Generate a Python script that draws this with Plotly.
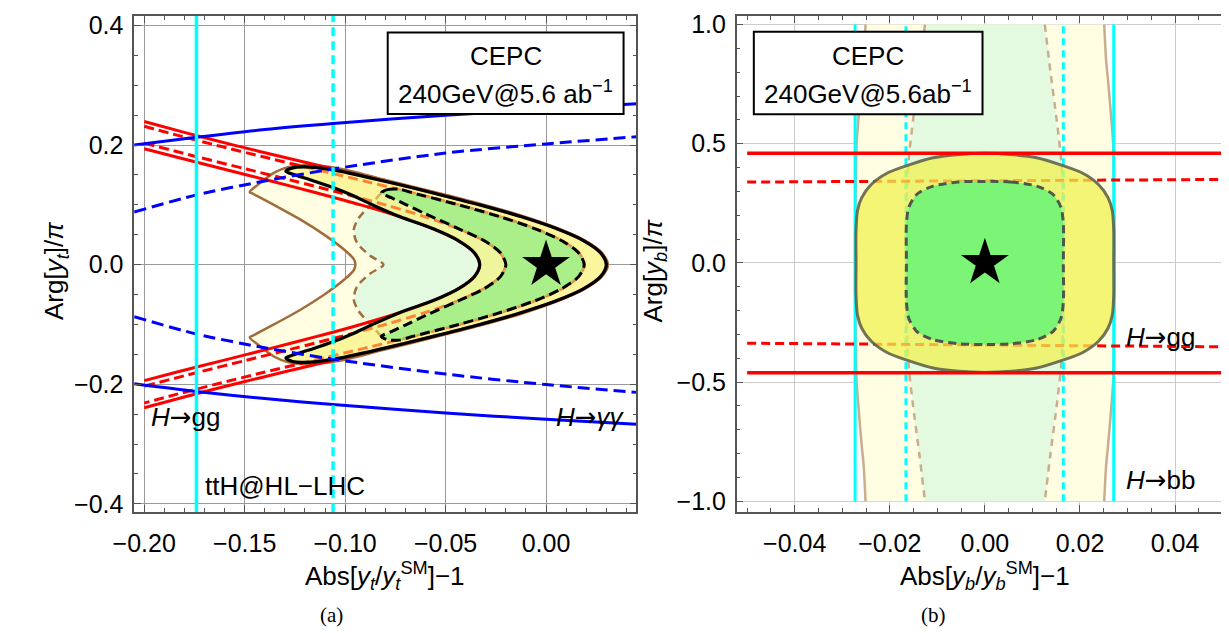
import plotly.graph_objects as go

W, H = 1229, 633
FONT = "Liberation Sans, Arial, sans-serif"
ARROW = "<span style=\"font-family:'DejaVu Sans'\">→</span>"

# ---------------- Left panel (top Yukawa) ----------------
XL_RANGE = [-0.205, 0.045]
YL_RANGE = [-0.414, 0.416]

# H->gg red curves: upper half, from the left edge to the tip on y=0
GG_OUT_SOLID_X = [-0.2, -0.1787, -0.1554, -0.1310, -0.1059, -0.0808, -0.0562, -0.0330, -0.0122, 0.0054, 0.0188, 0.0271, 0.0300]
GG_OUT_SOLID_Y = [0.2394, 0.22, 0.20, 0.18, 0.16, 0.14, 0.12, 0.10, 0.08, 0.06, 0.04, 0.02, 0.0]
GG_OUT_DASH_X = [-0.2, -0.1875, -0.1644, -0.1403, -0.1155, -0.0906, -0.0663, -0.0434, -0.0227, -0.0053, 0.0079, 0.0162, 0.0190]
GG_OUT_DASH_Y = [0.2315, 0.22, 0.20, 0.18, 0.16, 0.14, 0.12, 0.10, 0.08, 0.06, 0.04, 0.02, 0.0]
GG_IN_DASH_X = [-0.2, -0.1732, -0.1493, -0.1254, -0.1020, -0.0800, -0.0601, -0.0434, -0.0307, -0.0227, -0.0200]
GG_IN_DASH_Y = [0.2032, 0.18, 0.16, 0.14, 0.12, 0.10, 0.08, 0.06, 0.04, 0.02, 0.0]
GG_IN_SOLID_X = [-0.2, -0.1841, -0.1606, -0.1370, -0.1140, -0.0922, -0.0726, -0.0561, -0.0435, -0.0357, -0.0330]
GG_IN_SOLID_Y = [0.1939, 0.18, 0.16, 0.14, 0.12, 0.10, 0.08, 0.06, 0.04, 0.02, 0.0]

# CEPC combined 2-sigma (black solid) contour, upper half
BS_OUT_X = [-0.1295, -0.1265, -0.1200, -0.1060, -0.0808, -0.0562, -0.0330, -0.0122, 0.0054, 0.0188, 0.0271, 0.0300]
BS_OUT_Y = [0.1560, 0.1615, 0.1635, 0.1585, 0.1400, 0.1200, 0.1000, 0.0800, 0.0600, 0.0400, 0.0200, 0.0]
BS_IN_X = [-0.1295, -0.1245, -0.1160, -0.1060, -0.0965, -0.0860, -0.0726, -0.0561, -0.0435, -0.0357, -0.0330]
BS_IN_Y = [0.1560, 0.1495, 0.1405, 0.1290, 0.1160, 0.0995, 0.0800, 0.0600, 0.0400, 0.0200, 0.0]
# CEPC combined 1-sigma (black dashed) contour, upper half
BD_OUT_X = [-0.0820, -0.0790, -0.0730, -0.0663, -0.0434, -0.0227, -0.0053, 0.0079, 0.0162, 0.0190]
BD_OUT_Y = [0.1200, 0.1255, 0.1262, 0.1200, 0.1000, 0.0800, 0.0600, 0.0400, 0.0200, 0.0]
BD_IN_X = [-0.0820, -0.0770, -0.0700, -0.0600, -0.0434, -0.0307, -0.0227, -0.0200]
BD_IN_Y = [0.1200, 0.1120, 0.1010, 0.0850, 0.0600, 0.0400, 0.0200, 0.0]

# brown solid contour (upper path, from left point on axis to right tip)
BRS_X = [-0.0949, -0.0957, -0.1007, -0.1105, -0.1220, -0.1352, -0.1459, -0.1475, -0.1435, -0.1352, -0.1286,
         -0.1188, -0.1023, -0.0808, -0.0562, -0.0330, -0.0122, 0.0054, 0.0190, 0.0276, 0.0308]
BRS_Y = [0.0, 0.0093, 0.0257, 0.0503, 0.0749, 0.0995, 0.1186, 0.1215, 0.1335, 0.1540, 0.1630,
         0.1667, 0.1605, 0.1425, 0.1220, 0.1020, 0.0820, 0.0615, 0.0410, 0.0205, 0.0]
# brown dashed contour, left branch (axis -> upper tip)
BDL_X = [-0.0809, -0.0875, -0.0941, -0.0957, -0.0933, -0.0875, -0.0820]
BDL_Y = [0.0, 0.0148, 0.0366, 0.0585, 0.0776, 0.0995, 0.1200]

# H->gamma gamma blue curves
HAA_X = [-0.205, -0.174, -0.14, -0.106, -0.05, 0.0, 0.045]
HAA_SOLID_UP = [0.200, 0.213, 0.226, 0.236, 0.250, 0.260, 0.269]
HAA_SOLID_LO = [-0.199, -0.212, -0.224, -0.234, -0.248, -0.2587, -0.267]
HAA_DASH_UP = [0.088, 0.1167, 0.140, 0.160, 0.1867, 0.202, 0.214]
HAA_DASH_LO = [-0.087, -0.116, -0.139, -0.158, -0.183, -0.2005, -0.2136]

# ttH @ HL-LHC cyan lines
TTH_SOLID_X = -0.174
TTH_DASH_X = -0.106

# ---------------- Right panel (bottom Yukawa) ----------------
XR_RANGE = [-0.0522, 0.0522]
YR_RANGE = [-1.046, 1.036]

HBB_SOLID_X = [-0.0273, 0.0271]
HBB_DASH_X = [-0.0166, 0.0165]
HBB_Y = [-1.0, 1.0]

# brown solid (left branch, upper half: y from 1 to 0)
RBS_Y = [1.0, 0.85, 0.767, 0.603, 0.493, 0.3, 0.0]
RBS_X = [-0.0251, -0.0255, -0.0259, -0.0266, -0.0270, -0.0272, -0.0273]
# brown dashed (left branch, upper half)
RBD_Y = [1.0, 0.8, 0.6, 0.44, 0.3, 0.0]
RBD_X = [-0.0126, -0.0138, -0.0151, -0.0160, -0.0164, -0.0165]

# combined 2-sigma (yellow) quadrant: from top to right edge
RY_X = [0.0, 0.00546, 0.0109, 0.0164, 0.0205, 0.0239, 0.0259, 0.0268, 0.0271, 0.0271]
RY_Y = [0.4595, 0.455, 0.441, 0.408, 0.377, 0.329, 0.274, 0.219, 0.137, 0.0]
# combined 1-sigma (green) quadrant
RG_X = [0.0, 0.00546, 0.0109, 0.0143, 0.0160, 0.0165, 0.0165]
RG_Y = [0.342, 0.3397, 0.322, 0.288, 0.233, 0.164, 0.0]

# H->gg red lines (right panel)
RGG_X = [-0.05, 0.05]
RGG_SOLID_UP = [0.460, 0.460]
RGG_SOLID_LO = [-0.461, -0.461]
RGG_DASH_UP = [0.339, 0.350]
RGG_DASH_LO = [-0.337, -0.352]

STAR = ([0.0], [0.0])

# ---------------- colours ----------------
C_LY = "#FFFDE2"
C_LG = "#E3FAE0"
C_RED = "#FF0000"
C_BLUE = "#0000FF"
C_CYAN = "#00FFFF"
C_BROWN = "#A06E3C"
C_TAN = "#C8AE8C"


def neg(v):
    return [-a for a in v]


def mirror_path(xs, ys):
    return xs + xs[-2::-1], ys + neg(ys[-2::-1])


def c_curve(xs, ys):
    return xs + xs[-2::-1], ys + neg(ys[-2::-1])


def banana(ox, oy, ix, iy):
    xs = ox + ox[-2::-1] + ix[1:] + ix[-2::-1]
    ys = oy + neg(oy[-2::-1]) + neg(iy[1:]) + iy[-2::-1]
    return xs, ys


def quad_loop(qx, qy):
    xs = qx + qx[-2::-1] + neg(qx[1:]) + neg(qx[-2::-1])
    ys = qy + neg(qy[-2::-1]) + neg(qy[1:]) + qy[-2::-1]
    return xs, ys


fig = go.Figure()


def add(x, y, xa="x", ya="y", **kw):
    fig.add_trace(go.Scatter(x=x, y=y, xaxis=xa, yaxis=ya, showlegend=False,
                             hoverinfo="skip", **kw))


SPL = dict(shape="spline", smoothing=0.8)

# ---- left panel ----
bx, by = mirror_path(BRS_X, BRS_Y)
add(bx, by, mode="lines", fill="toself", fillcolor=C_LY, line=dict(width=0))
gx, gy = mirror_path(BDL_X + BD_OUT_X[1:], BDL_Y + BD_OUT_Y[1:])
add(gx, gy, mode="lines", fill="toself", fillcolor=C_LG, line=dict(width=0))
add(bx, by, mode="lines", line=dict(color=C_BROWN, width=2.5, **SPL))
dx = BDL_X[::-1] + BDL_X[1:]
dy = BDL_Y[::-1] + neg(BDL_Y[1:])
add(dx, dy, mode="lines", line=dict(color=C_BROWN, width=2.5, dash="8px,5px", **SPL))

for xs, ys, dash in [(GG_OUT_SOLID_X, GG_OUT_SOLID_Y, "solid"),
                     (GG_IN_SOLID_X, GG_IN_SOLID_Y, "solid"),
                     (GG_OUT_DASH_X, GG_OUT_DASH_Y, "10px,5px"),
                     (GG_IN_DASH_X, GG_IN_DASH_Y, "10px,5px")]:
    cx, cy = c_curve(xs, ys)
    add(cx, cy, mode="lines", line=dict(color=C_RED, width=3, dash=dash, **SPL))

yx, yy = banana(BS_OUT_X, BS_OUT_Y, BS_IN_X, BS_IN_Y)
add(yx, yy, mode="lines", fill="toself", fillcolor="rgba(248,240,100,0.55)",
    line=dict(color="black", width=3.2, **SPL))
gx2, gy2 = banana(BD_OUT_X, BD_OUT_Y, BD_IN_X, BD_IN_Y)
add(gx2, gy2, mode="lines", fill="toself", fillcolor="rgba(125,235,125,0.6)",
    line=dict(color="black", width=3, dash="10px,5px", **SPL))

add(HAA_X, HAA_SOLID_UP, mode="lines", line=dict(color=C_BLUE, width=3, **SPL))
add(HAA_X, HAA_SOLID_LO, mode="lines", line=dict(color=C_BLUE, width=3, **SPL))
add(HAA_X, HAA_DASH_UP, mode="lines", line=dict(color=C_BLUE, width=3, dash="12px,6px", **SPL))
add(HAA_X, HAA_DASH_LO, mode="lines", line=dict(color=C_BLUE, width=3, dash="12px,6px", **SPL))

add([TTH_SOLID_X, TTH_SOLID_X], YL_RANGE, mode="lines", line=dict(color=C_CYAN, width=3.5))
add([TTH_DASH_X, TTH_DASH_X], YL_RANGE, mode="lines", line=dict(color=C_CYAN, width=3.5, dash="9px,5px"))
add(STAR[0], STAR[1], mode="markers", marker=dict(symbol="star", size=36, color="black"))

# ---- right panel ----
lbx = RBS_X + RBS_X[-2::-1]
lby = RBS_Y + neg(RBS_Y[-2::-1])
rbx = neg(lbx)
add(lbx + rbx[::-1], lby + lby[::-1], "x2", "y2", mode="lines", fill="toself", fillcolor=C_LY, line=dict(width=0))
ldx = RBD_X + RBD_X[-2::-1]
ldy = RBD_Y + neg(RBD_Y[-2::-1])
rdx = neg(ldx)
add(ldx + rdx[::-1], ldy + ldy[::-1], "x2", "y2", mode="lines", fill="toself", fillcolor=C_LG, line=dict(width=0))
add(lbx, lby, "x2", "y2", mode="lines", line=dict(color=C_TAN, width=2.5, **SPL))
add(rbx, lby, "x2", "y2", mode="lines", line=dict(color=C_TAN, width=2.5, **SPL))
add(ldx, ldy, "x2", "y2", mode="lines", line=dict(color=C_TAN, width=2.5, dash="7px,6px", **SPL))
add(rdx, ldy, "x2", "y2", mode="lines", line=dict(color=C_TAN, width=2.5, dash="7px,6px", **SPL))

for xv in HBB_SOLID_X:
    add([xv, xv], HBB_Y, "x2", "y2", mode="lines", line=dict(color=C_CYAN, width=3))
for xv in HBB_DASH_X:
    add([xv, xv], HBB_Y, "x2", "y2", mode="lines", line=dict(color=C_CYAN, width=3, dash="7px,5px"))

add(RGG_X, RGG_DASH_UP, "x2", "y2", mode="lines", line=dict(color=C_RED, width=3, dash="9px,5px"))
add(RGG_X, RGG_DASH_LO, "x2", "y2", mode="lines", line=dict(color=C_RED, width=3, dash="9px,5px"))

qx, qy = quad_loop(RY_X, RY_Y)
add(qx, qy, "x2", "y2", mode="lines", fill="toself", fillcolor="rgba(240,240,80,0.75)",
    line=dict(color="rgba(90,90,70,0.85)", width=3, **SPL))
qx, qy = quad_loop(RG_X, RG_Y)
add(qx, qy, "x2", "y2", mode="lines", fill="toself", fillcolor="rgba(95,245,120,0.8)",
    line=dict(color="rgba(70,70,70,0.9)", width=3, dash="8px,5px", **SPL))

add(RGG_X, RGG_SOLID_UP, "x2", "y2", mode="lines", line=dict(color=C_RED, width=3.5))
add(RGG_X, RGG_SOLID_LO, "x2", "y2", mode="lines", line=dict(color=C_RED, width=3.5))
add(STAR[0], STAR[1], "x2", "y2", mode="markers", marker=dict(symbol="star", size=36, color="black"))


# ---------------- axes ----------------
def axis(rng, dtick, minor_dtick, fmt, dom, grid, anchor, standoff):
    return dict(range=rng, domain=dom, anchor=anchor, dtick=dtick, tick0=0, tickformat=fmt,
                showline=True, linecolor="#555", linewidth=1.5, mirror="ticks",
                ticks="inside", ticklen=7, tickwidth=1.2, tickcolor="#555",
                showgrid=True, gridcolor=grid, gridwidth=1,
                zeroline=True, zerolinecolor=grid, zerolinewidth=1,
                tickfont=dict(family=FONT, size=25, color="black"),
                ticklabeloverflow="allow", ticklabelstandoff=standoff,
                minor=dict(dtick=minor_dtick, tick0=0, ticks="inside", ticklen=4,
                           tickwidth=1, tickcolor="#555", showgrid=False),
                fixedrange=True)


YDOM = [1 - 507 / H, 1 - 2 / H]
xa1 = axis(XL_RANGE, 0.05, 0.01, ".2f", [107 / W, 618 / W], "#9a9a9a", "y", 8)
ya1 = axis(YL_RANGE, 0.2, 0.05, ".1f", YDOM, "#9a9a9a", "x", 4)
xa2 = axis(XR_RANGE, 0.02, 0.005, ".2f", [720 / W, 1225 / W], "#cccccc", "y2", 8)
ya2 = axis(YR_RANGE, 0.5, 0.1, ".1f", YDOM, "#cccccc", "x2", 4)

shapes = [
    dict(type="rect", xref="x", yref="y", x0=-0.0788, x1=0.0386, y0=0.2519, y1=0.3883,
         fillcolor="white", line=dict(color="black", width=2), layer="above"),
    dict(type="rect", xref="x2", yref="y2", x0=-0.0486, x1=-0.0005, y0=0.6235, y1=0.970,
         fillcolor="white", line=dict(color="black", width=2), layer="above"),
]


def ann(text, x, y, xref, yref, size=26, xanchor="center", yanchor="middle", angle=0, family=FONT):
    return dict(text=text, x=x, y=y, xref=xref, yref=yref, showarrow=False,
                xanchor=xanchor, yanchor=yanchor, textangle=angle,
                font=dict(family=family, size=size, color="black"))


annotations = [
    ann("CEPC", -0.020, 0.3488, "x", "y"),
    ann("240GeV@5.6 ab<sup>−1</sup>", -0.020, 0.2880, "x", "y"),
    ann("CEPC", -0.0246, 0.867, "x2", "y2"),
    ann("240GeV@5.6ab<sup>−1</sup>", -0.0246, 0.714, "x2", "y2"),
    ann("<i>H</i>" + ARROW + "gg", -0.1977, -0.254, "x", "y", xanchor="left"),
    ann("<i>H</i>" + ARROW + "<i>γγ</i>", 0.0405, -0.254, "x", "y", xanchor="right"),
    ann("ttH@HL−LHC", -0.1707, -0.371, "x", "y", xanchor="left"),
    ann("<i>H</i>" + ARROW + "gg", 0.0293, -0.3126, "x2", "y2", xanchor="left"),
    ann("<i>H</i>" + ARROW + "bb", 0.0293, -0.910, "x2", "y2", xanchor="left"),
    # axis titles
    ann("Abs[<i>y</i><sub><i>t</i></sub>/<i>y</i><sub><i>t</i></sub><sup>SM</sup>]−1", 362 / W, 1 - 572 / H, "paper", "paper"),
    ann("Abs[<i>y</i><sub><i>b</i></sub>/<i>y</i><sub><i>b</i></sub><sup>SM</sup>]−1", 973 / W, 1 - 572 / H, "paper", "paper"),
    ann("Arg[<i>y</i><sub><i>t</i></sub>]/<i>π</i>", 27 / W, 1 - 262 / H, "paper", "paper", angle=-90),
    ann("Arg[<i>y</i><sub><i>b</i></sub>]/<i>π</i>", 636 / W, 1 - 262 / H, "paper", "paper", angle=-90),
    # sub-captions
    ann("(a)", 308 / W, 1 - 612 / H, "paper", "paper", size=21, family="Liberation Serif, DejaVu Serif, serif"),
    ann("(b)", 920 / W, 1 - 612 / H, "paper", "paper", size=21, family="Liberation Serif, DejaVu Serif, serif"),
]

fig.update_layout(
    width=W, height=H, autosize=False,
    margin=dict(l=0, r=0, t=0, b=0, pad=0),
    paper_bgcolor="white", plot_bgcolor="white",
    xaxis=xa1, yaxis=ya1, xaxis2=xa2, yaxis2=ya2,
    shapes=shapes, annotations=annotations,
    font=dict(family=FONT, color="black"),
)

fig.write_html("out.html")
